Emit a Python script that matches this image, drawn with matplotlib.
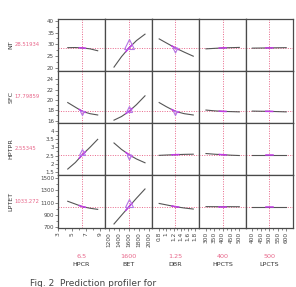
import numpy as np
import matplotlib
matplotlib.use("Agg")
import matplotlib.pyplot as plt
from matplotlib.transforms import offset_copy

# Config
W, H = 296, 287
OUT_PATH = "out.png"
COL_EDGES = [58, 105, 152, 199, 246, 293]
ROW_EDGES = [19, 71, 123, 175, 228]
CURVE_COLOR = "#555555"
REF_COLOR = "#e8668a"
HILITE_COLOR = "#c23be6"
TRI_COLOR = "#b575e6"
FRAME_COLOR = "#4a4a4a"

# Data
factors = ["HPCR", "BET", "DBR", "HPCTS", "LPCTS"]
factor_now = [6.5, 1600, 1.25, 400, 500]
factor_now_text = ["6.5", "1600", "1.25", "400", "500"]
responses = ["NT", "SFC", "HPTPR", "LPTET"]
response_now = [28.51934, 17.79859, 2.55345, 1033.272]
response_now_text = ["28.51934", "17.79859", "2.55345", "1033.272"]

hpcr_x = [4.4, 5.5, 6.5, 7.6, 8.7]
bet_x = [1300, 1450, 1600, 1750, 1920]
dbr_x = [0.8, 1.0, 1.25, 1.5, 1.75]
hpcts_x = [300, 350, 400, 450, 500]
lpcts_x = [400, 450, 500, 550, 600]

nt_hpcr = [28.6, 28.65, 28.5, 28.1, 27.3]
nt_bet = [20.4, 24.8, 28.5, 31.6, 34.3]
nt_dbr = [32.3, 30.6, 28.5, 26.7, 25.0]
nt_hpcts = [28.1, 28.3, 28.5, 28.6, 28.7]
nt_lpcts = [28.4, 28.45, 28.5, 28.55, 28.6]

sfc_hpcr = [19.5, 18.6, 17.8, 17.35, 17.1]
sfc_bet = [16.1, 16.8, 17.8, 19.1, 20.8]
sfc_dbr = [19.5, 18.7, 17.8, 17.35, 17.1]
sfc_hpcts = [18.05, 17.9, 17.8, 17.75, 17.7]
sfc_lpcts = [17.85, 17.82, 17.8, 17.75, 17.7]

hptpr_hpcr = [1.68, 2.08, 2.55, 3.0, 3.48]
hptpr_bet = [3.26, 2.87, 2.55, 2.29, 2.06]
hptpr_dbr = [2.51, 2.53, 2.55, 2.57, 2.58]
hptpr_hpcts = [2.62, 2.58, 2.55, 2.52, 2.5]
hptpr_lpcts = [2.55, 2.55, 2.55, 2.55, 2.55]

lptet_hpcr = [1120, 1075, 1033, 1008, 990]
lptet_bet = [755, 895, 1033, 1170, 1318]
lptet_dbr = [1085, 1062, 1033, 1012, 995]
lptet_hpcts = [1034, 1033, 1033, 1033, 1032]
lptet_lpcts = [1033, 1033, 1033, 1033, 1033]

factor_x = [hpcr_x, bet_x, dbr_x, hpcts_x, lpcts_x]
curves = [
    [nt_hpcr, nt_bet, nt_dbr, nt_hpcts, nt_lpcts],
    [sfc_hpcr, sfc_bet, sfc_dbr, sfc_hpcts, sfc_lpcts],
    [hptpr_hpcr, hptpr_bet, hptpr_dbr, hptpr_hpcts, hptpr_lpcts],
    [lptet_hpcr, lptet_bet, lptet_dbr, lptet_hpcts, lptet_lpcts],
]

# axis setup
x_lims = [(3.0, 9.75), (1120, 2060), (0.6, 1.91), (258, 540), (363, 640)]
x_ticks = [[3, 5, 7, 9], [1200, 1400, 1600, 1800, 2000],
           [0.8, 1, 1.2, 1.4, 1.6, 1.8], [300, 350, 400, 450, 500],
           [400, 450, 500, 550, 600]]
x_labels = [["3", "5", "7", "9"], ["1200", "1400", "1600", "1800", "2000"],
            ["0.8", "1", "1.2", "1.4", "1.6", "1.8"],
            ["300", "350", "400", "450", "500"],
            ["400", "450", "500", "550", "600"]]
y_lims = [(18.75, 40.7), (15.55, 25.6), (1.32, 4.47), (690, 1543)]
y_ticks = [[20, 25, 30, 35, 40], [16, 18, 20, 22, 24],
           [1.5, 2, 2.5, 3, 3.5, 4], [700, 900, 1100, 1300, 1500]]
y_labels = [["20", "25", "30", "35", "40"], ["16", "18", "20", "22", "24"],
            ["1.5", "2", "2.5", "3", "3.5", "4"],
            ["700", "900", "1100", "1300", "1500"]]

# (row, col): (direction, marker size) for the interval triangles
triangles = {
    (0, 1): (1, 6.5), (0, 2): (-1, 3.5),
    (1, 0): (-1, 3.0), (1, 1): (1, 4.5), (1, 2): (-1, 3.0),
    (2, 0): (1, 5.0), (2, 1): (-1, 3.5),
    (3, 1): (1, 6.0),
}


def fx(px):
    return px / W


def fy(py):
    return 1 - py / H


def draw_cell(fig, r, c):
    x0, x1 = COL_EDGES[c], COL_EDGES[c + 1]
    y0, y1 = ROW_EDGES[r], ROW_EDGES[r + 1]
    ax = fig.add_axes([fx(x0), fy(y1), fx(x1 - x0), (y1 - y0) / H])
    ax.set_xlim(*x_lims[c])
    ax.set_ylim(*y_lims[r])

    xs = np.array(factor_x[c], dtype=float)
    ys = np.array(curves[r][c], dtype=float)
    ax.plot(xs, ys, color=CURVE_COLOR, lw=0.8, zorder=3)

    ax.axhline(response_now[r], color=REF_COLOR, lw=0.7, ls=(0, (1, 1.5)), zorder=1)
    ax.axvline(factor_now[c], color=REF_COLOR, lw=0.7, ls=(0, (1, 1.5)), zorder=1)

    # highlighted piece of the curve around the current setting
    span = (xs[-1] - xs[0]) * 0.1
    seg_x = np.linspace(factor_now[c] - span, factor_now[c] + span, 10)
    seg_y = np.interp(seg_x, xs, ys)
    ax.plot(seg_x, seg_y, color=HILITE_COLOR, lw=1.1, zorder=4)

    if (r, c) in triangles:
        d, s = triangles[(r, c)]
        tr = offset_copy(ax.transData, fig=fig, x=0, y=d * s * 0.45, units="points")
        ax.plot([factor_now[c]], [response_now[r]], transform=tr,
                marker="^" if d > 0 else "v", ms=s, mfc="none",
                mec=TRI_COLOR, mew=0.8, zorder=5)

    for sp in ax.spines.values():
        sp.set_color(FRAME_COLOR)
        sp.set_linewidth(0.9)

    ax.tick_params(length=0, labelleft=False, labelbottom=False)
    ax.set_xticks([])
    ax.set_yticks([])

    if c == 0:
        ax.set_yticks(y_ticks[r])
        ax.set_yticklabels(y_labels[r])
        ax.set_yticks(np.convolve(y_ticks[r], [0.5, 0.5], "valid"), minor=True)
        ax.tick_params(axis="y", which="both", left=True, labelleft=True,
                       length=2, width=0.5, color="#555555", pad=0.8,
                       labelsize=4.0, labelcolor="#444444")
        ax.tick_params(axis="y", which="minor", length=1.3)
    if r == len(responses) - 1:
        ax.set_xticks(x_ticks[c])
        ax.set_xticklabels(x_labels[c], rotation=90)
        ax.set_xticks(np.convolve(x_ticks[c], [0.5, 0.5], "valid"), minor=True)
        ax.tick_params(axis="x", which="both", bottom=True, labelbottom=True,
                       length=2, width=0.5, color="#555555", pad=0.8,
                       labelsize=4.2, labelcolor="#444444")
        ax.tick_params(axis="x", which="minor", length=1.3)
    return ax


def main():
    fig = plt.figure(figsize=(W / 100, H / 100), dpi=100)
    fig.patch.set_facecolor("white")

    for r in range(len(responses)):
        for c in range(len(factors)):
            draw_cell(fig, r, c)

    for r, name in enumerate(responses):
        yc = fy((ROW_EDGES[r] + ROW_EDGES[r + 1]) / 2)
        fig.text(fx(11), yc, name, rotation=90, ha="center", va="center",
                 fontsize=4.6, color="#333333")
        fig.text(fx(14.5), yc, response_now_text[r], ha="left", va="center",
                 fontsize=3.8, color=REF_COLOR)

    for c, name in enumerate(factors):
        xc = fx((COL_EDGES[c] + COL_EDGES[c + 1]) / 2)
        fig.text(xc, fy(256.5), factor_now_text[c], ha="center", va="center",
                 fontsize=4.6, color=REF_COLOR)
        fig.text(xc, fy(265), name, ha="center", va="center",
                 fontsize=4.6, color="#333333")

    fig.text(fx(30), fy(283), "Fig. 2  Prediction profiler for",
             ha="left", va="center", fontsize=6.5, color="#444444")

    fig.savefig(OUT_PATH, dpi=100)


if __name__ == "__main__":
    main()
